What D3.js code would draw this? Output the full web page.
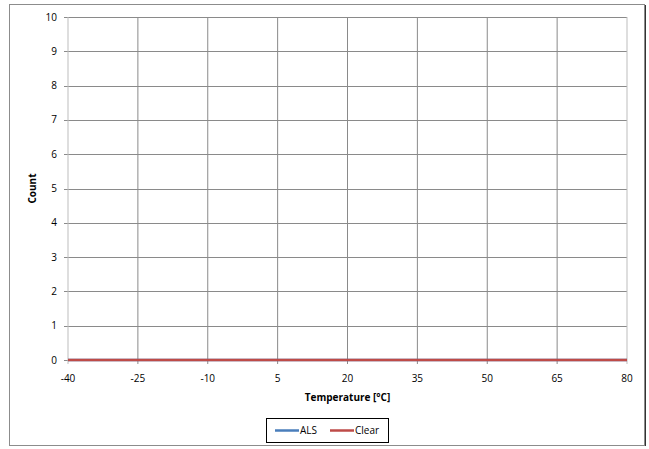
<!doctype html>
<html>
<head>
<meta charset="UTF-8">
<script src="https://d3js.org/d3.v7.min.js"></script>
<style>
body { margin: 0; background: #fff; }
text { font-family: "Open Sans", "DejaVu Sans", sans-serif; font-size: 10px; fill: #000; }
.axis-title { font-weight: bold; }
</style>
</head>
<body>
<script>
// chart data
var temps = [-40, -25, -10, 5, 20, 35, 50, 65, 80];
var alsCounts = [0, 0, 0, 0, 0, 0, 0, 0, 0];
var clearCounts = [0, 0, 0, 0, 0, 0, 0, 0, 0];
var yTicks = [0, 1, 2, 3, 4, 5, 6, 7, 8, 9, 10];
var seriesNames = ["ALS", "Clear"];
var seriesColors = ["#4a7ebb", "#be4b48"];

var w = 649, h = 449;
// plot area bounds (avoid "top", it is window.top)
var plotL = 68, plotR = 627, plotT = 17, plotB = 360;

var svg = d3.select("body").append("svg")
    .attr("width", w)
    .attr("height", h);

// outer frame
svg.append("rect")
    .attr("x", 9.5).attr("y", 4.5)
    .attr("width", 635).attr("height", 441)
    .attr("fill", "#fff")
    .attr("stroke", "#8c8c8c");
svg.append("line")
    .attr("x1", 645.5).attr("x2", 645.5).attr("y1", 5).attr("y2", 446)
    .attr("stroke", "#333");

var x = d3.scaleLinear().domain([-40, 80]).range([plotL, plotR]);
var y = d3.scaleLinear().domain([0, 10]).range([plotB, plotT]);

// gridlines
svg.append("g").selectAll("line")
    .data(yTicks)
    .enter().append("line")
    .attr("x1", plotL - 4).attr("x2", plotR)
    .attr("y1", function(d) { return Math.round(y(d)) + 0.5; })
    .attr("y2", function(d) { return Math.round(y(d)) + 0.5; })
    .attr("stroke", "#8a8a8a");

svg.append("g").selectAll("line")
    .data(temps)
    .enter().append("line")
    .attr("x1", function(d) { return x(d); })
    .attr("x2", function(d) { return x(d); })
    .attr("y1", plotT).attr("y2", plotB + 4)
    .attr("stroke", function(d, i) { return (i == 0 || i == temps.length - 1) ? "#bdbdbd" : "#8a8a8a"; });

// y tick labels
svg.append("g").selectAll("text")
    .data(yTicks)
    .enter().append("text")
    .attr("x", 57)
    .attr("y", function(d) { return y(d); })
    .attr("dy", "0.35em")
    .attr("text-anchor", "end")
    .text(function(d) { return d; });

// x tick labels
svg.append("g").selectAll("text")
    .data(temps)
    .enter().append("text")
    .attr("x", function(d) { return x(d); })
    .attr("y", 378)
    .attr("dy", "0.35em")
    .attr("text-anchor", "middle")
    .text(function(d) { return d; });

// axis titles
svg.append("text")
    .attr("class", "axis-title")
    .attr("transform", "translate(36," + ((plotT + plotB) / 2) + ") rotate(-90)")
    .attr("text-anchor", "middle")
    .text("Count");

svg.append("text")
    .attr("class", "axis-title")
    .attr("x", (plotL + plotR) / 2)
    .attr("y", 397)
    .attr("dy", "0.35em")
    .attr("text-anchor", "middle")
    .text("Temperature [°C]");

// series lines
var line = d3.line()
    .x(function(d, i) { return x(temps[i]); })
    .y(function(d) { return y(d); });

[alsCounts, clearCounts].forEach(function(vals, i) {
    svg.append("path")
        .datum(vals)
        .attr("d", line)
        .attr("fill", "none")
        .attr("stroke", seriesColors[i])
        .attr("stroke-width", 2.5);
});

// legend
var legend = svg.append("g").attr("transform", "translate(266,418)");
legend.append("rect")
    .attr("x", 0.5).attr("y", 0.5)
    .attr("width", 122).attr("height", 24)
    .attr("fill", "#fff")
    .attr("stroke", "#000");
var legX = [9, 64];
seriesNames.forEach(function(name, i) {
    legend.append("line")
        .attr("x1", legX[i]).attr("x2", legX[i] + 24)
        .attr("y1", 12.5).attr("y2", 12.5)
        .attr("stroke", seriesColors[i])
        .attr("stroke-width", 2.5);
    legend.append("text")
        .attr("x", legX[i] + 25)
        .attr("y", 12.5)
        .attr("dy", "0.35em")
        .text(name);
});
</script>
</body>
</html>
